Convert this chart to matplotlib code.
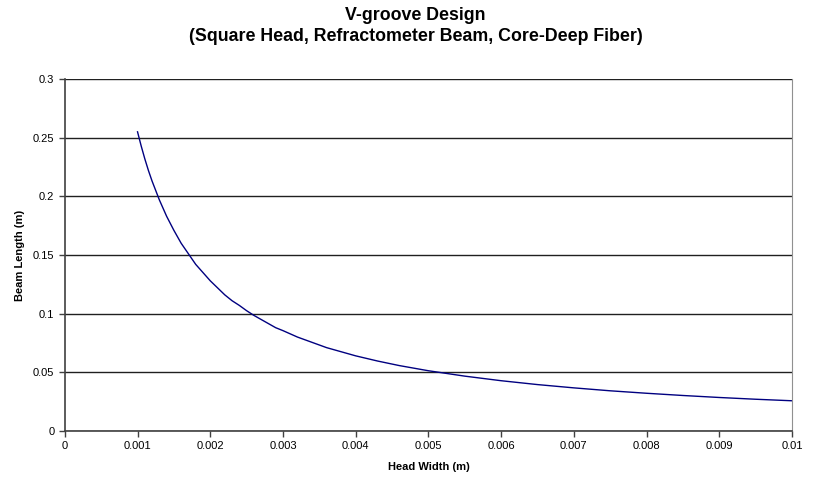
import matplotlib
matplotlib.use("Agg")
import matplotlib.pyplot as plt

plt.rcParams["font.family"] = ["Liberation Sans", "DejaVu Sans"]

# head width (m) vs beam length (m)
head_width = [0.001, 0.00105, 0.0011, 0.00115, 0.0012, 0.0013, 0.0014, 0.0015,
              0.0016, 0.0017, 0.0018, 0.0019, 0.002, 0.0021, 0.0022, 0.0023,
              0.0024, 0.0025, 0.0026, 0.0027, 0.0028, 0.0029, 0.003, 0.0032,
              0.0034, 0.0036, 0.0038, 0.004, 0.0043, 0.0046, 0.005, 0.0055,
              0.006, 0.0065, 0.007, 0.0075, 0.008, 0.0085, 0.009, 0.0095, 0.01]
beam_length = [0.255, 0.243, 0.232, 0.222, 0.213, 0.197, 0.183, 0.171,
               0.160, 0.151, 0.142, 0.135, 0.128, 0.122, 0.116, 0.111,
               0.107, 0.1025, 0.0985, 0.095, 0.0915, 0.088, 0.0855, 0.080,
               0.0755, 0.071, 0.0675, 0.064, 0.0596, 0.0557, 0.0513, 0.0467,
               0.0428, 0.0395, 0.0367, 0.0342, 0.0321, 0.0302, 0.0285, 0.0270,
               0.0257]

x_ticks = [0, 0.001, 0.002, 0.003, 0.004, 0.005, 0.006, 0.007, 0.008, 0.009, 0.01]
x_labels = ["0", "0.001", "0.002", "0.003", "0.004", "0.005", "0.006",
            "0.007", "0.008", "0.009", "0.01"]
y_ticks = [0, 0.05, 0.1, 0.15, 0.2, 0.25, 0.3]
y_labels = ["0", "0.05", "0.1", "0.15", "0.2", "0.25", "0.3"]

fig = plt.figure(figsize=(8.31, 4.82), dpi=100)
ax = fig.add_axes([0.078, 0.106, 0.875, 0.730])

ax.plot(head_width, beam_length, color="#000080", linewidth=1.0)

ax.set_xlim(0, 0.01)
ax.set_ylim(0, 0.3)
ax.set_xticks(x_ticks)
ax.set_xticklabels(x_labels)
ax.set_yticks(y_ticks)
ax.set_yticklabels(y_labels)
ax.tick_params(labelsize=8, length=4, width=1, color="#404040", direction="out")
ax.yaxis.grid(True, color="#202020", linewidth=1.0)
ax.set_axisbelow(True)

for side in ("left", "bottom"):
    ax.spines[side].set_color("#404040")
    ax.spines[side].set_linewidth(1.2)
ax.spines["right"].set_color("#909090")
ax.spines["top"].set_visible(False)

ax.set_xlabel("Head Width (m)", fontsize=8, fontweight="bold", labelpad=8)
ax.set_ylabel("Beam Length (m)", fontsize=8, fontweight="bold", labelpad=6)

fig.text(0.5, 0.985, "V-groove Design\n(Square Head, Refractometer Beam, Core-Deep Fiber)",
         ha="center", va="top", fontsize=12.8, fontweight="bold", linespacing=1.3)

fig.savefig("out.png", dpi=100)
